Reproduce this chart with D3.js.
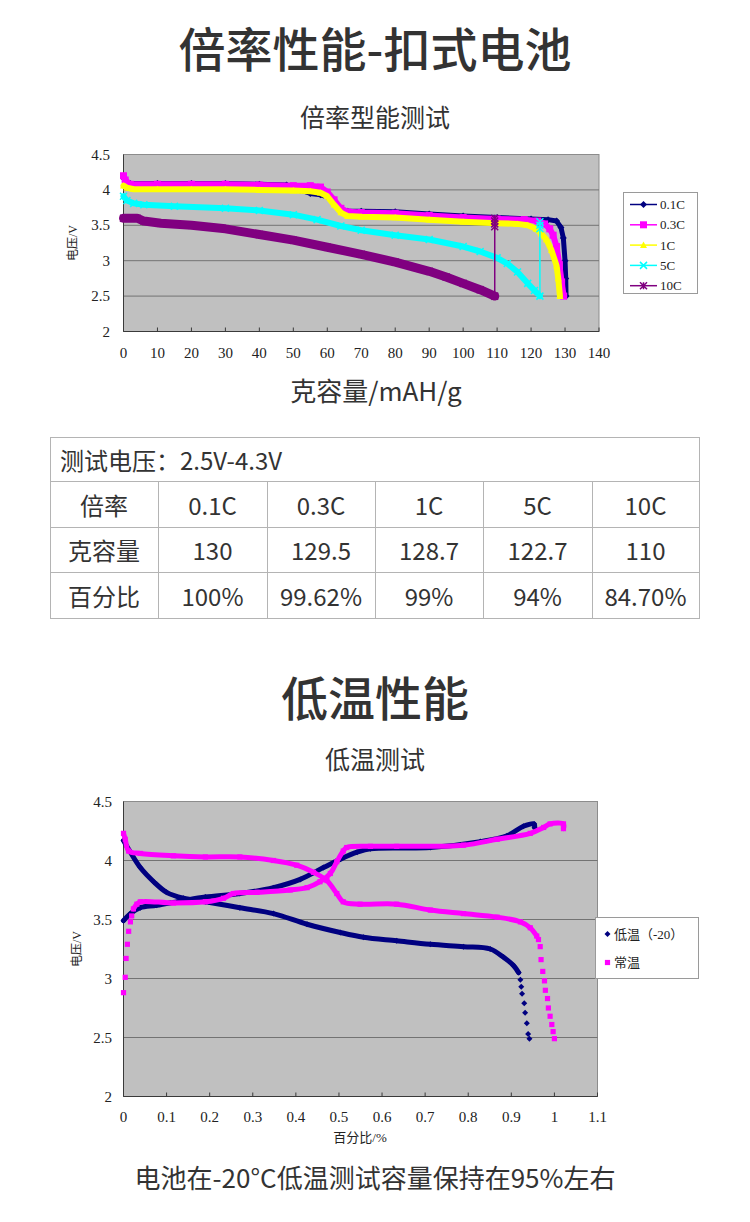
<!DOCTYPE html>
<html><head><meta charset="utf-8">
<script src="https://cdn.jsdelivr.net/npm/d3@7"></script>
<style>body{margin:0;background:#fff}svg{display:block}</style>
</head><body>
<svg id="c" width="750" height="1222"></svg>
<script>
// ---------------- DATA ----------------
const pageTitle1 = "倍率性能-扣式电池";
const chartTitle1 = "倍率型能测试";
const rateXLabel = "克容量/mAH/g";
const rateYLabel = "电压/V";
const rateSeriesNames = ["0.1C", "0.3C", "1C", "5C", "10C"];
const rateXTicks = [0, 10, 20, 30, 40, 50, 60, 70, 80, 90, 100, 110, 120, 130, 140];
const rateYTicks = [2, 2.5, 3, 3.5, 4, 4.5];

const rate01C = [[0,4.17],[0.5,4.12],[2,4.09],[10,4.09],[20,4.09],[30,4.09],[40,4.08],[48,4.07],[52,4.0],[55,3.95],[58,3.93],[60,3.9],[62,3.82],[64,3.73],[66,3.7],[70,3.7],[80,3.69],[90,3.66],[100,3.63],[110,3.61],[120,3.59],[125,3.58],[127.5,3.56],[128.8,3.47],[129.5,3.32],[130,3.0],[130.2,2.75],[130.3,2.5]];
const rate03C = [[0,4.2],[0.5,4.14],[2,4.08],[10,4.08],[20,4.08],[30,4.08],[40,4.07],[50,4.06],[55,4.06],[58,4.04],[60,3.97],[62,3.86],[64,3.74],[66,3.69],[70,3.68],[80,3.67],[90,3.64],[100,3.61],[110,3.59],[118,3.58],[122,3.56],[124,3.52],[125.5,3.45],[126.5,3.36],[127.5,3.2],[128.3,2.95],[129,2.7],[129.6,2.5]];
const rate1C = [[0,4.06],[1,4.03],[3,4.01],[10,4.01],[20,4.01],[30,4.01],[40,4.0],[50,3.99],[55,3.98],[58,3.96],[60,3.91],[62,3.79],[64,3.68],[66,3.63],[70,3.62],[80,3.61],[90,3.58],[100,3.55],[110,3.53],[116,3.52],[119,3.5],[121.5,3.45],[123,3.38],[124.5,3.3],[126,3.15],[127.5,2.93],[128,2.75],[128.5,2.5]];
const rate5C = [[0,3.91],[1,3.85],[3,3.81],[6,3.79],[15,3.77],[30,3.74],[40,3.71],[50,3.65],[57,3.58],[64,3.49],[70,3.43],[80,3.36],[90,3.3],[100,3.2],[105,3.13],[110,3.04],[113,2.96],[116,2.84],[119,2.68],[121,2.58],[122.6,2.5]];
const rate10C = [[0,3.6],[4,3.6],[6,3.56],[11,3.53],[20,3.5],[30,3.45],[40,3.37],[50,3.29],[60,3.19],[70,3.09],[80,2.98],[90,2.85],[95,2.77],[100,2.68],[105,2.59],[109.3,2.5]];
// voltage recovery after cut-off (thin vertical lines)
const rate5CRecovery = [[122.6,2.5],[122.6,3.45],[122.6,3.5],[122.6,3.55]];
const rate10CRecovery = [[109.3,2.5],[109.3,3.48],[109.3,3.52],[109.3,3.56],[109.3,3.6]];

const tableHeader = "测试电压：2.5V-4.3V";
const tableRowLabels = ["倍率", "克容量", "百分比"];
const tableRates = ["0.1C", "0.3C", "1C", "5C", "10C"];
const tableCapacity = ["130", "129.5", "128.7", "122.7", "110"];
const tablePercent = ["100%", "99.62%", "99%", "94%", "84.70%"];

const pageTitle2 = "低温性能";
const chartTitle2 = "低温测试";
const lowXLabel = "百分比/%";
const lowYLabel = "电压/V";
const lowSeriesNames = ["低温（-20）", "常温"];
const lowXTicks = [0, 0.1, 0.2, 0.3, 0.4, 0.5, 0.6, 0.7, 0.8, 0.9, 1, 1.1];
const lowYTicks = [2, 2.5, 3, 3.5, 4, 4.5];

const lowCharge = [[0,3.49],[0.016,3.55],[0.039,3.6],[0.077,3.62],[0.139,3.66],[0.19,3.69],[0.27,3.72],[0.348,3.77],[0.41,3.84],[0.464,3.94],[0.503,4.01],[0.542,4.07],[0.573,4.1],[0.712,4.11],[0.828,4.16],[0.89,4.21],[0.928,4.29],[0.953,4.31],[0.954,4.28]];
const lowDischarge = [[0,4.17],[0.016,4.07],[0.039,3.94],[0.07,3.82],[0.1,3.73],[0.139,3.68],[0.19,3.65],[0.27,3.6],[0.348,3.55],[0.426,3.46],[0.503,3.39],[0.557,3.35],[0.634,3.32],[0.712,3.29],[0.789,3.27],[0.851,3.25],[0.882,3.18],[0.905,3.11],[0.917,3.05]];
const lowDischargeTail = [[0.921,2.99],[0.923,2.93],[0.925,2.87],[0.93,2.79],[0.932,2.71],[0.936,2.62],[0.939,2.53],[0.942,2.49]];
const roomChargeHead = [[0,2.88],[0.004,3.01],[0.006,3.17],[0.009,3.29],[0.012,3.4],[0.016,3.48],[0.019,3.53]];
const roomCharge = [[0.023,3.59],[0.031,3.63],[0.039,3.65],[0.116,3.64],[0.19,3.65],[0.232,3.68],[0.255,3.72],[0.31,3.73],[0.387,3.75],[0.426,3.77],[0.456,3.82],[0.48,3.89],[0.495,3.99],[0.51,4.08],[0.518,4.11],[0.573,4.12],[0.634,4.12],[0.789,4.13],[0.867,4.18],[0.944,4.23],[0.975,4.28],[0.99,4.31],[1.021,4.31],[1.021,4.27]];
const roomDischarge = [[0,4.23],[0.004,4.18],[0.012,4.08],[0.039,4.06],[0.116,4.04],[0.19,4.03],[0.27,4.03],[0.348,4.0],[0.402,3.96],[0.441,3.9],[0.472,3.83],[0.495,3.72],[0.51,3.65],[0.549,3.63],[0.634,3.63],[0.712,3.58],[0.789,3.55],[0.867,3.52],[0.921,3.48],[0.944,3.43],[0.959,3.36]];
const roomDischargeTail = [[0.963,3.33],[0.967,3.27],[0.969,3.16],[0.973,3.06],[0.977,2.98],[0.979,2.9],[0.984,2.83],[0.986,2.75],[0.99,2.68],[0.994,2.61],[0.997,2.55],[1.0,2.49]];

const caption = "电池在-20°C低温测试容量保持在95%左右";

// ---------------- STYLE ----------------
const SANS = "'Noto Sans CJK SC', 'Noto Sans', sans-serif";
const SERIF = "'Liberation Serif', 'DejaVu Serif', 'Noto Sans CJK SC', serif";
const TEXT = "#333333";
const PLOT_BG = "#c0c0c0";
const GRID = "#737373";
const rateColors = ["#000080", "#ff00ff", "#ffff00", "#00ffff", "#800080"];
const rateShapes = ["diamond", "square", "triangle", "x", "asterisk"];
const rateBand = [5, 6, 6, 6, 9];
const lowColors = ["#000080", "#ff00ff"];

const svg = d3.select("#c");
svg.append("rect").attr("width", 750).attr("height", 1222).attr("fill", "#fff");

function marker(g, shape, x, y, color, r) {
  if (shape === "diamond") {
    g.append("path").attr("d", `M${x},${y-r}L${x+r},${y}L${x},${y+r}L${x-r},${y}Z`).attr("fill", color);
  } else if (shape === "square") {
    g.append("rect").attr("x", x-r).attr("y", y-r).attr("width", 2*r).attr("height", 2*r).attr("fill", color);
  } else if (shape === "triangle") {
    g.append("path").attr("d", `M${x},${y-r}L${x+r},${y+r*0.8}L${x-r},${y+r*0.8}Z`).attr("fill", color);
  } else if (shape === "x") {
    g.append("path").attr("d", `M${x-r},${y-r}L${x+r},${y+r}M${x-r},${y+r}L${x+r},${y-r}`).attr("stroke", color).attr("stroke-width", 1.5);
  } else if (shape === "asterisk") {
    g.append("path").attr("d", `M${x-r},${y-r}L${x+r},${y+r}M${x-r},${y+r}L${x+r},${y-r}M${x},${y-r}L${x},${y+r}`).attr("stroke", color).attr("stroke-width", 1.5);
  }
}

function text(t, x, y, size, opts = {}) {
  const el = svg.append("text").attr("x", x).attr("y", y).text(t)
    .attr("font-family", opts.family || SANS).attr("font-size", size)
    .attr("fill", opts.fill || TEXT).attr("text-anchor", opts.anchor || "middle")
    .attr("dominant-baseline", "central");
  if (opts.weight) el.attr("font-weight", opts.weight);
  if (opts.rotate) el.attr("transform", `rotate(-90,${x},${y})`);
  return el;
}

function frame(x, y, xTicks, yTicks) {
  const [x0, x1] = x.range(), [y0, y1] = y.range();
  const g = svg.append("g");
  g.append("rect").attr("x", x0).attr("y", y1).attr("width", x1 - x0).attr("height", y0 - y1)
    .attr("fill", PLOT_BG).attr("stroke", "#8c8c8c").attr("stroke-width", 1);
  yTicks.filter(v => v !== y.domain()[0] && v !== y.domain()[1]).forEach(v => {
    g.append("line").attr("x1", x0).attr("x2", x1).attr("y1", y(v)).attr("y2", y(v))
      .attr("stroke", GRID).attr("stroke-width", 1);
  });
  g.append("line").attr("x1", x0).attr("x2", x0).attr("y1", y1).attr("y2", y0).attr("stroke", "#3a3a3a");
  g.append("line").attr("x1", x0).attr("x2", x1).attr("y1", y0).attr("y2", y0).attr("stroke", "#3a3a3a");
  xTicks.forEach(v => {
    g.append("line").attr("x1", x(v)).attr("x2", x(v)).attr("y1", y0).attr("y2", y0 - 4).attr("stroke", "#3a3a3a");
  });
  return g;
}

// ---------------- TITLES ----------------
text(pageTitle1, 375, 46, 47, { weight: 500 });
text(chartTitle1, 375, 116, 25);

// ---------------- CHART 1 ----------------
{
  const x = d3.scaleLinear().domain([0, 140]).range([123.5, 599]);
  const y = d3.scaleLinear().domain([2, 4.5]).range([331.5, 154.5]);
  frame(x, y, rateXTicks, rateYTicks);
  const line = d3.line().x(d => x(d[0])).y(d => y(d[1]));
  const series = [rate01C, rate03C, rate1C, rate5C, rate10C];
  const recov = [null, null, null, rate5CRecovery, rate10CRecovery];
  const gS = svg.append("g");
  series.forEach((s, i) => {
    const c = rateColors[i];
    if (recov[i]) {
      gS.append("path").attr("d", line(recov[i])).attr("fill", "none").attr("stroke", c).attr("stroke-width", 1.5);
      recov[i].slice(1).forEach(p => marker(gS, rateShapes[i], x(p[0]), y(p[1]), c, 3.5));
    }
    gS.append("path").attr("d", line(s)).attr("fill", "none").attr("stroke", c)
      .attr("stroke-width", rateBand[i]).attr("stroke-linejoin", "round").attr("stroke-linecap", "round");
    s.forEach(p => marker(gS, rateShapes[i], x(p[0]), y(p[1]), c, 3.5));
  });
  rateYTicks.forEach(v => text(String(v), 110, y(v), 15, { family: SERIF, anchor: "end", fill: "#222" }));
  rateXTicks.forEach(v => text(String(v), x(v), 353, 15, { family: SERIF, fill: "#222" }));
  text(rateYLabel, 73, 243, 12, { family: SERIF, rotate: true, fill: "#222" });
  text(rateXLabel, 376, 389, 26);

  const lg = svg.append("g");
  lg.append("rect").attr("x", 623.5).attr("y", 192.5).attr("width", 74).attr("height", 101)
    .attr("fill", "#fff").attr("stroke", "#9a9a9a");
  rateSeriesNames.forEach((n, i) => {
    const ly = 204.5 + i * 20.3;
    lg.append("line").attr("x1", 630).attr("x2", 657).attr("y1", ly).attr("y2", ly)
      .attr("stroke", rateColors[i]).attr("stroke-width", 1.5);
    marker(lg, rateShapes[i], 643.5, ly, rateColors[i], 3.5);
    svg.append("text").attr("x", 660).attr("y", ly).text(n).attr("font-family", SERIF)
      .attr("font-size", 13).attr("fill", "#222").attr("dominant-baseline", "central");
  });
}

// ---------------- TABLE ----------------
{
  const rows = [437, 481, 527, 572, 618];
  const cols = [50, 158, 267, 375, 483, 592, 699];
  const g = svg.append("g").attr("stroke", "#b4b4b4").attr("stroke-width", 1);
  g.append("rect").attr("x", cols[0] + 0.5).attr("y", rows[0] + 0.5)
    .attr("width", cols[6] - cols[0]).attr("height", rows[4] - rows[0]).attr("fill", "none");
  rows.slice(1, 4).forEach(r => g.append("line").attr("x1", cols[0]).attr("x2", cols[6]).attr("y1", r + 0.5).attr("y2", r + 0.5));
  cols.slice(1, 6).forEach(c => g.append("line").attr("x1", c + 0.5).attr("x2", c + 0.5).attr("y1", rows[1]).attr("y2", rows[4]));
  text(tableHeader, 60, (rows[0] + rows[1]) / 2, 24, { anchor: "start" });
  const data = [tableRates, tableCapacity, tablePercent];
  data.forEach((vals, r) => {
    const cy = (rows[r + 1] + rows[r + 2]) / 2;
    text(tableRowLabels[r], (cols[0] + cols[1]) / 2, cy, 24);
    vals.forEach((v, ci) => text(v, (cols[ci + 1] + cols[ci + 2]) / 2, cy, 24));
  });
}

// ---------------- TITLES 2 ----------------
text(pageTitle2, 375, 695, 47, { weight: 500 });
text(chartTitle2, 375, 758, 25);

// ---------------- CHART 2 ----------------
{
  const x = d3.scaleLinear().domain([0, 1.1]).range([123.5, 597.5]);
  const y = d3.scaleLinear().domain([2, 4.5]).range([1096.5, 801.5]);
  frame(x, y, lowXTicks, lowYTicks);
  const line = d3.line().x(d => x(d[0])).y(d => y(d[1])).curve(d3.curveCatmullRom.alpha(0.5));
  const g = svg.append("g");
  const groups = [
    { dense: [lowCharge, lowDischarge], sparse: [lowDischargeTail], c: lowColors[0], shape: "diamond", r: 3 },
    { dense: [roomCharge, roomDischarge], sparse: [roomChargeHead, roomDischargeTail], c: lowColors[1], shape: "square", r: 2.6 }
  ];
  groups.forEach(gr => {
    gr.dense.forEach(s => {
      g.append("path").attr("d", line(s)).attr("fill", "none").attr("stroke", gr.c)
        .attr("stroke-width", 5).attr("stroke-linejoin", "round").attr("stroke-linecap", "round");
      s.forEach(p => marker(g, gr.shape, x(p[0]), y(p[1]), gr.c, gr.r));
    });
    gr.sparse.forEach(s => s.forEach(p => marker(g, gr.shape, x(p[0]), y(p[1]), gr.c, gr.r)));
  });
  lowYTicks.forEach(v => text(String(v), 112, y(v), 15, { family: SERIF, anchor: "end", fill: "#222" }));
  lowXTicks.forEach(v => text(String(v), x(v), 1117, 15, { family: SERIF, fill: "#222" }));
  text(lowYLabel, 77, 949, 12, { family: SERIF, rotate: true, fill: "#222" });
  text(lowXLabel, 360, 1137, 13, { family: SERIF, fill: "#222" });

  const lg = svg.append("g");
  lg.append("rect").attr("x", 595.5).attr("y", 917.5).attr("width", 103).attr("height", 61)
    .attr("fill", "#fff").attr("stroke", "#9a9a9a");
  lowSeriesNames.forEach((n, i) => {
    const ly = 934 + i * 28.5;
    marker(lg, i === 0 ? "diamond" : "square", 607.5, ly, lowColors[i], i === 0 ? 3 : 2.6);
    svg.append("text").attr("x", 614).attr("y", ly).text(n).attr("font-family", SERIF)
      .attr("font-size", 13).attr("fill", "#222").attr("dominant-baseline", "central");
  });
}

// ---------------- CAPTION ----------------
text(caption, 375, 1176, 26);
</script>
</body></html>
